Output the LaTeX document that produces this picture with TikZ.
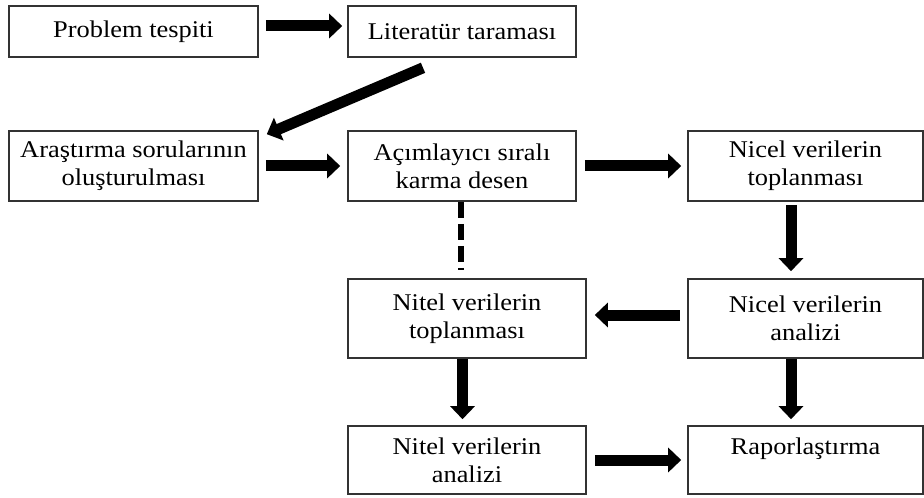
\documentclass[tikz,border=0pt]{standalone}
\usepackage{fontspec}
\setmainfont[FakeStretch=1.1]{Liberation Serif}
\usepackage{tikz}
\usetikzlibrary{calc,arrows.meta}
\definecolor{edge}{HTML}{333333}
\tikzset{
  box/.style={draw=edge, line width=0.8pt, align=center, inner sep=0pt,
    font=\fontsize{12}{14}\selectfont},
  cola/.style={minimum width=124.5pt},
  colb/.style={minimum width=114pt},
  colbw/.style={minimum width=119pt},
  colc/.style={minimum width=117.5pt},
  blk/.style={draw=black, line width=5.5pt,
    -{Triangle[length=6.5pt,width=12pt]}},
  dsh/.style={draw=black, line width=2.7pt, dash pattern=on 8pt off 3pt},
}

\begin{document}
\begin{tikzpicture}[x=0.5pt,y=-0.5pt]
  \useasboundingbox (0,0) rectangle (924,497);
  % boxes
  \node[box,cola,minimum height=25.5pt] (prb) at (133.5,31.5) {Problem tespiti};
  \node[box,colb,minimum height=25.5pt] (lit) at (462,31.5) {Literatür taraması};
  \node[box,cola,minimum height=35pt] (ara) at (133.5,166) {Araştırma sorularının\\oluşturulması};
  \node[box,colb,minimum height=35pt] (acm) at (462,166) {Açımlayıcı sıralı\\karma desen};
  \node[box,colc,minimum height=35pt] (nct) at (805.5,166) {Nicel verilerin\\toplanması};
  \node[box,colbw,minimum height=39.5pt] (ntt) at (467,318.5) {Nitel verilerin\\toplanması};
  \node[box,colc,minimum height=39.5pt] (nca) at (805.5,318.5) {Nicel verilerin\\analizi};
  \node[box,colbw,minimum height=34pt] (nta) at (467,460) {Nitel verilerin\\analizi};
  \node[box,colc,minimum height=34pt] (rap) at (805.5,460) {Raporlaştırma\\\phantom{analizi}};
  % arrows
  \draw[blk,shorten <=3.5pt,shorten >=2.5pt] ([yshift=2.75pt]prb.east) -- ([yshift=2.75pt]lit.west);
  \draw[blk] ($(lit.south)+(-39,10)$) -- ($(ara.north east)+(8,4)$);
  \draw[blk,shorten <=3.5pt,shorten >=3.5pt] (ara.east) -- (acm.west);
  \draw[blk,shorten <=4pt,shorten >=3pt] (acm.east) -- (nct.west);
  \draw[dsh] ([xshift=-0.5pt]acm.south) -- ++(0,68);
  \draw[blk,shorten <=1.5pt,shorten >=3.5pt] ([xshift=-7.25pt]nct.south) -- ([xshift=-7.25pt]nca.north);
  \draw[blk,shorten <=3.5pt,shorten >=4pt] ([yshift=1.75pt]nca.west) -- ([yshift=1.75pt]ntt.east);
  \draw[blk,shorten >=3pt] ([xshift=-2.25pt]ntt.south) -- ([xshift=-2.25pt]nta.north);
  \draw[blk,shorten >=3pt] ([xshift=-7.25pt]nca.south) -- ([xshift=-7.25pt]rap.north);
  \draw[blk,shorten <=4pt,shorten >=3pt] (nta.east) -- (rap.west);
\end{tikzpicture}
\end{document}
